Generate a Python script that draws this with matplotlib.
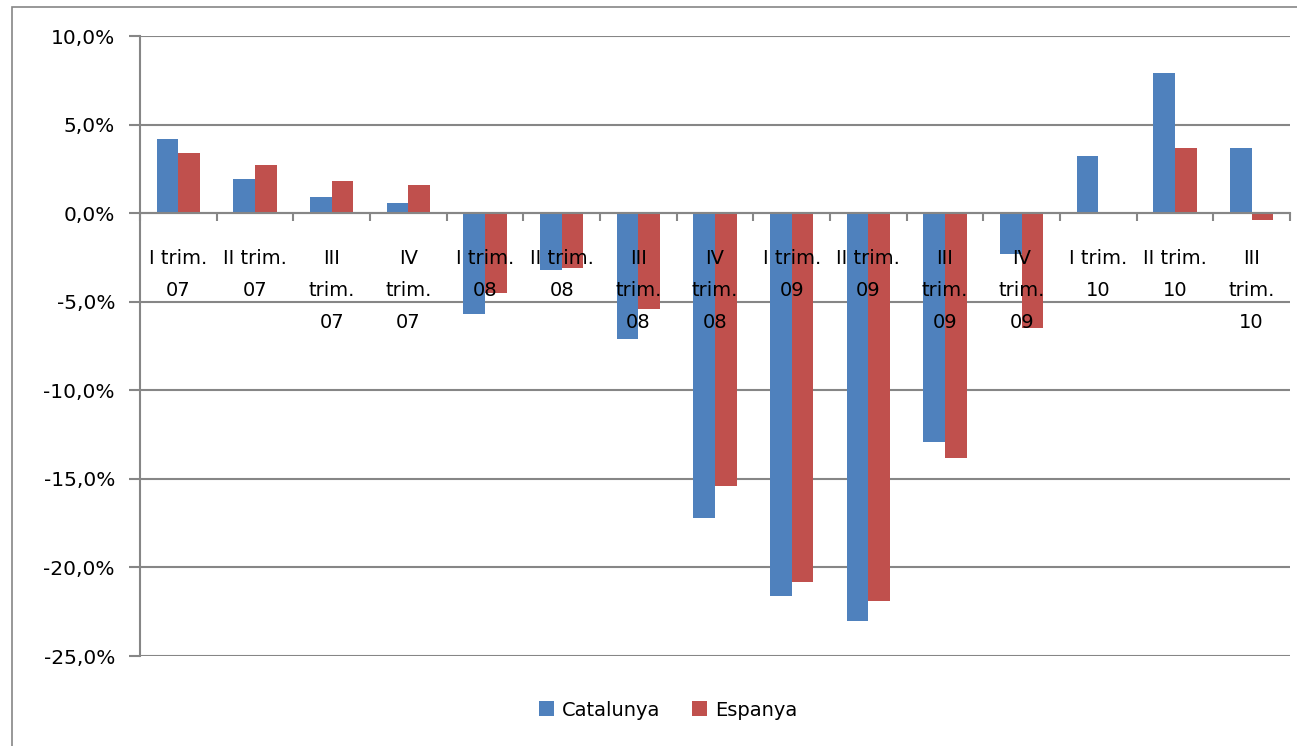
import matplotlib.pyplot as plt
import numpy as np
from matplotlib.patches import Rectangle

plt.rcParams['font.family'] = ['DejaVu Sans']

categories = ['I trim.\n07', 'II trim.\n07', 'III\ntrim.\n07', 'IV\ntrim.\n07',
              'I trim.\n08', 'II trim.\n08', 'III\ntrim.\n08', 'IV\ntrim.\n08',
              'I trim.\n09', 'II trim.\n09', 'III\ntrim.\n09', 'IV\ntrim.\n09',
              'I trim.\n10', 'II trim.\n10', 'III\ntrim.\n10']
catalunya = [4.2, 1.9, 0.9, 0.6, -5.7, -3.2, -7.1, -17.2, -21.6, -23.0, -12.9, -2.3, 3.2, 7.9, 3.7]
espanya = [3.4, 2.7, 1.8, 1.6, -4.5, -3.1, -5.4, -15.4, -20.8, -21.9, -13.8, -6.5, -0.05, 3.7, -0.4]
yticks = [10, 5, 0, -5, -10, -15, -20, -25]

grey = '#868686'
fig = plt.figure(figsize=(12.97, 7.46), dpi=100)
ax = fig.add_axes([140 / 1297, 1 - 656 / 746, 1150 / 1297, 620 / 746])

x = np.arange(len(categories))
w = 0.283
ax.bar(x - w / 2, catalunya, w, color='#4F81BD', label='Catalunya', zorder=3)
ax.bar(x + w / 2, espanya, w, color='#C0504D', label='Espanya', zorder=3)

ax.set_xlim(-0.5, len(categories) - 0.5)
ax.set_ylim(-25, 10)
ax.set_yticks(yticks)
ax.set_yticklabels([f'{v:.1f}%'.replace('.', ',') for v in yticks], fontsize=14.5)
ax.yaxis.grid(True, color=grey, linewidth=1.5, zorder=0)

ax.spines['top'].set_visible(False)
ax.spines['right'].set_visible(False)
ax.spines['left'].set_color(grey)
ax.spines['left'].set_linewidth(1.5)
ax.spines['bottom'].set_position(('data', 0))
ax.spines['bottom'].set_color(grey)
ax.spines['bottom'].set_linewidth(1.5)
ax.spines['bottom'].set_zorder(4)

ax.set_xticks(np.arange(len(categories) + 1) - 0.5)
ax.set_xticklabels([])
ax.tick_params(axis='x', direction='out', length=6, color=grey, width=1.5)
ax.tick_params(axis='y', direction='out', length=8, color=grey, width=1.5, pad=10)

for i, lab in enumerate(categories):
    ax.text(i, -2.05, lab, ha='center', va='top', fontsize=14, linespacing=1.84, zorder=5)

fig.legend(*ax.get_legend_handles_labels(), loc='center', bbox_to_anchor=(668 / 1297, 1 - 710 / 746),
           ncol=2, frameon=False, fontsize=14, handlelength=0.8, handleheight=0.8,
           columnspacing=1.6, handletextpad=0.4)

fig.patches.append(Rectangle((12 / 1297, -0.01), 1.05, 1 - 7 / 746 + 0.01,
                             transform=fig.transFigure, fill=False,
                             edgecolor=grey, linewidth=1.2))

fig.savefig('out.png', dpi=100)
